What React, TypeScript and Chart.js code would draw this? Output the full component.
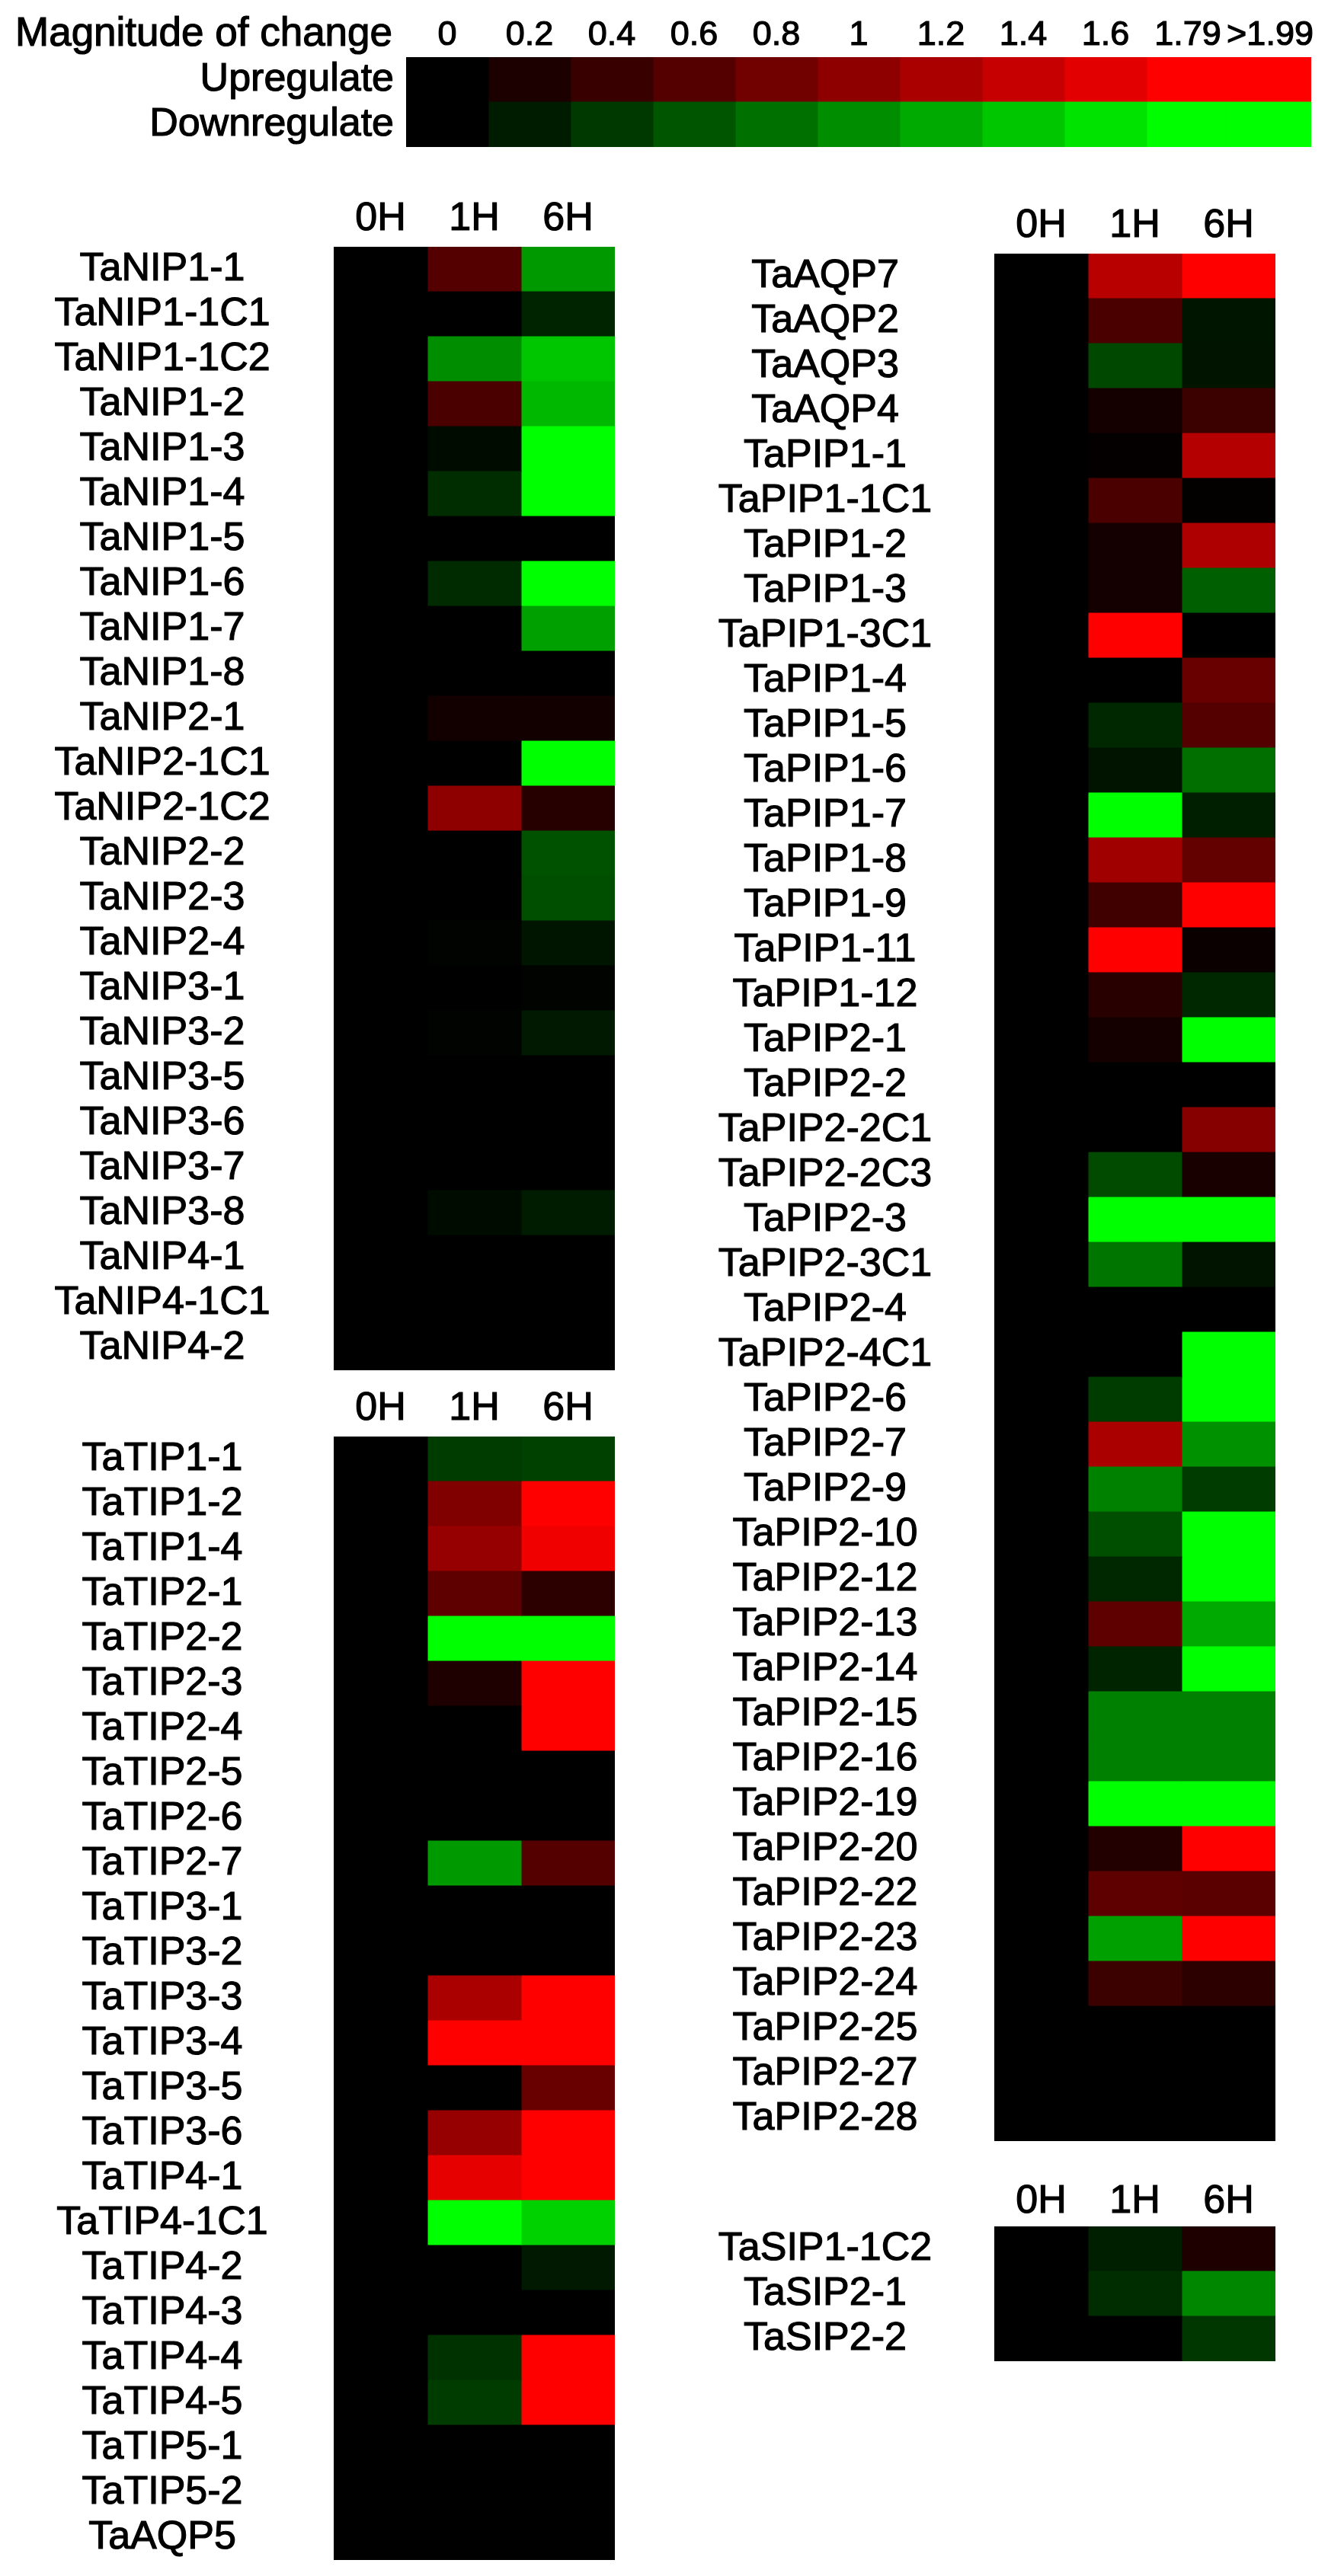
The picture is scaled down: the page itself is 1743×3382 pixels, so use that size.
import React, { useEffect, useRef } from 'react';
import { Chart, registerables } from 'chart.js';

Chart.register(...registerables);

const FONT_FAMILY = '"Liberation Sans", Arial, Helvetica, sans-serif';
const FONT_SIZE = 52;
const LEGEND_TICK_SIZE = 45;
const TEXT_STROKE = 1.2;

// ---------- data ----------
const timePoints = ['0H', '1H', '6H'];

const legendTitle = 'Magnitude of change';
const legendTickLabels = ['0', '0.2', '0.4', '0.6', '0.8', '1', '1.2', '1.4', '1.6', '1.79', '>1.99'];
const legendLevels = [0, 0.2, 0.4, 0.6, 0.8, 1, 1.2, 1.4, 1.6, 1.79, 2];
const legendRows = ['Upregulate', 'Downregulate'];

const nipGenes = ['TaNIP1-1', 'TaNIP1-1C1', 'TaNIP1-1C2', 'TaNIP1-2', 'TaNIP1-3', 'TaNIP1-4', 'TaNIP1-5', 'TaNIP1-6', 'TaNIP1-7', 'TaNIP1-8', 'TaNIP2-1', 'TaNIP2-1C1', 'TaNIP2-1C2', 'TaNIP2-2', 'TaNIP2-3', 'TaNIP2-4', 'TaNIP3-1', 'TaNIP3-2', 'TaNIP3-5', 'TaNIP3-6', 'TaNIP3-7', 'TaNIP3-8', 'TaNIP4-1', 'TaNIP4-1C1', 'TaNIP4-2'];
const nip0H = [0, 0, 0, 0, 0, 0, 0, 0, 0, 0, 0, 0, 0, 0, 0, 0, 0, 0, 0, 0, 0, 0, 0, 0, 0];
const nip1H = [0.6, 0, -1.0, 0.53, -0.08, -0.32, 0, -0.3, 0, 0, 0.13, 0, 1.0, 0, 0, -0.02, 0, -0.02, 0, 0, 0, -0.08, 0, 0, 0];
const nip6H = [-1.08, -0.25, -1.4, -1.3, -2, -1.95, 0, -2, -1.13, 0, 0.13, -2, 0.27, -0.57, -0.56, -0.15, -0.02, -0.18, 0, 0, 0, -0.2, 0, 0, 0];

const tipGenes = ['TaTIP1-1', 'TaTIP1-2', 'TaTIP1-4', 'TaTIP2-1', 'TaTIP2-2', 'TaTIP2-3', 'TaTIP2-4', 'TaTIP2-5', 'TaTIP2-6', 'TaTIP2-7', 'TaTIP3-1', 'TaTIP3-2', 'TaTIP3-3', 'TaTIP3-4', 'TaTIP3-5', 'TaTIP3-6', 'TaTIP4-1', 'TaTIP4-1C1', 'TaTIP4-2', 'TaTIP4-3', 'TaTIP4-4', 'TaTIP4-5', 'TaTIP5-1', 'TaTIP5-2', 'TaAQP5'];
const tip0H = [0, 0, 0, 0, 0, 0, 0, 0, 0, 0, 0, 0, 0, 0, 0, 0, 0, 0, 0, 0, 0, 0, 0, 0, 0];
const tip1H = [-0.42, 0.9, 1.06, 0.67, -2, 0.21, 0, 0, 0, -1.08, 0, 0, 1.2, 2, 0, 1.06, 1.62, -2, 0, 0, -0.35, -0.42, 0, 0, 0];
const tip6H = [-0.46, 2, 1.7, 0.32, -2, 2, 2, 0, 0, 0.6, 0, 0, 2, 2, 0.74, 2, 2, -1.48, -0.18, 0, 2, 2, 0, 0, 0];

const pipGenes = ['TaAQP7', 'TaAQP2', 'TaAQP3', 'TaAQP4', 'TaPIP1-1', 'TaPIP1-1C1', 'TaPIP1-2', 'TaPIP1-3', 'TaPIP1-3C1', 'TaPIP1-4', 'TaPIP1-5', 'TaPIP1-6', 'TaPIP1-7', 'TaPIP1-8', 'TaPIP1-9', 'TaPIP1-11', 'TaPIP1-12', 'TaPIP2-1', 'TaPIP2-2', 'TaPIP2-2C1', 'TaPIP2-2C3', 'TaPIP2-3', 'TaPIP2-3C1', 'TaPIP2-4', 'TaPIP2-4C1', 'TaPIP2-6', 'TaPIP2-7', 'TaPIP2-9', 'TaPIP2-10', 'TaPIP2-12', 'TaPIP2-13', 'TaPIP2-14', 'TaPIP2-15', 'TaPIP2-16', 'TaPIP2-19', 'TaPIP2-20', 'TaPIP2-22', 'TaPIP2-23', 'TaPIP2-24', 'TaPIP2-25', 'TaPIP2-27', 'TaPIP2-28'];
const pip0H = [0, 0, 0, 0, 0, 0, 0, 0, 0, 0, 0, 0, 0, 0, 0, 0, 0, 0, 0, 0, 0, 0, 0, 0, 0, 0, 0, 0, 0, 0, 0, 0, 0, 0, 0, 0, 0, 0, 0, 0, 0, 0];
const pip1H = [1.3, 0.53, -0.5, 0.15, 0.03, 0.53, 0.14, 0.14, 2, 0, -0.28, -0.14, -2, 1.13, 0.46, 2, 0.28, 0.15, 0, 0, -0.53, -2, -0.83, 0, 0, -0.42, 1.2, -0.92, -0.56, -0.28, 0.67, -0.25, -0.9, -0.9, -2, 0.25, 0.67, -1.13, 0.42, 0, 0, 0];
const pip6H = [2, -0.15, -0.14, 0.42, 1.27, 0.02, 1.23, -0.67, 0, 0.74, 0.6, -0.78, -0.21, 0.7, 2, 0.07, -0.28, -2, 0, 0.95, 0.18, -2, -0.14, 0, -2, -2, -1.02, -0.42, -2, -2, -1.2, -2, -0.9, -0.9, -2, 2, 0.64, 2, 0.32, 0, 0, 0];

const sipGenes = ['TaSIP1-1C2', 'TaSIP2-1', 'TaSIP2-2'];
const sip0H = [0, 0, 0];
const sip1H = [-0.21, -0.32, 0];
const sip6H = [0.21, -0.95, -0.39];

// ---------- helpers ----------
function cellColor(v: number): string {
  const t = Math.min(1, Math.abs(v) / 1.8);
  const c = Math.round(255 * t);
  return v >= 0 ? `rgb(${c},0,0)` : `rgb(0,${c},0)`;
}

function measureWidest(labels: string[]): number {
  const ctx = document.createElement('canvas').getContext('2d') as CanvasRenderingContext2D;
  ctx.font = `${FONT_SIZE}px ${FONT_FAMILY}`;
  return Math.max(...labels.map((l) => ctx.measureText(l).width));
}

type Frame = { left: number; top: number; width: number; height: number };
type Area = { x0: number; y0: number; x1: number; y1: number };

function makeConfig(
  rows: string[],
  cols: string[],
  series: number[][],
  frame: Frame,
  heat: Area,
  xTickPad: number,
  yTickPad: number,
  yCrossAlign: 'center' | 'near',
  xFontSize: number,
  xLineHeight: number
): any {
  const xAxisH = heat.y0 - frame.top;
  const yAxisW = heat.x0 - frame.left;
  const padRight = frame.left + frame.width - heat.x1;
  const padBottom = frame.top + frame.height - heat.y1;
  return {
    type: 'bar',
    data: {
      labels: rows,
      datasets: series.map((vals, i) => ({
        label: cols[i],
        data: vals.map(() => 1),
        backgroundColor: vals.map(cellColor),
        borderWidth: 0,
        inflateAmount: 0.5,
        barPercentage: 1,
        categoryPercentage: 1,
      })),
    },
    options: {
      indexAxis: 'y',
      responsive: false,
      maintainAspectRatio: false,
      animation: false,
      events: [],
      layout: { padding: { left: 0, top: 0, right: padRight, bottom: padBottom } },
      plugins: { legend: { display: false }, tooltip: { enabled: false }, title: { display: false } },
      scales: {
        x: {
          type: 'linear',
          position: 'top',
          stacked: true,
          min: 0,
          max: cols.length,
          grid: { display: false, drawTicks: false },
          border: { display: false },
          afterBuildTicks: (s: any) => {
            s.ticks = cols.map((_, i) => ({ value: i + 0.5 }));
          },
          afterFit: (s: any) => {
            s.height = xAxisH;
            s.paddingLeft = 0;
            s.paddingRight = 0;
          },
          ticks: {
            autoSkip: false,
            maxRotation: 0,
            minRotation: 0,
            padding: xTickPad,
            color: '#000',
            textStrokeColor: '#000',
            textStrokeWidth: TEXT_STROKE,
            font: { family: FONT_FAMILY, size: xFontSize, lineHeight: xLineHeight },
            callback: (_v: any, i: number) => cols[i],
          },
        },
        y: {
          type: 'category',
          stacked: true,
          grid: { display: false, drawTicks: false },
          border: { display: false },
          afterFit: (s: any) => {
            s.width = yAxisW;
            s.paddingTop = 0;
            s.paddingBottom = 0;
          },
          ticks: {
            autoSkip: false,
            crossAlign: yCrossAlign,
            padding: yTickPad,
            color: '#000',
            textStrokeColor: '#000',
            textStrokeWidth: TEXT_STROKE,
            font: { family: FONT_FAMILY, size: FONT_SIZE, lineHeight: 1.2 },
          },
        },
      },
    },
  };
}

function HeatPanel(props: {
  genes: string[];
  series: number[][];
  frame: Frame;
  heat: Area;
  headerY: number;
  labelX: number;
}) {
  const ref = useRef<HTMLCanvasElement>(null);
  const { genes, series, frame, heat, headerY, labelX } = props;
  useEffect(() => {
    const widest = measureWidest(genes);
    const yPad = heat.x0 - labelX - widest / 2;
    const xPad = heat.y0 - headerY - (FONT_SIZE * 1.2) / 2;
    const chart = new Chart(
      ref.current as HTMLCanvasElement,
      makeConfig(genes, timePoints, series, frame, heat, xPad, yPad, 'center', FONT_SIZE, 1.2)
    );
    return () => chart.destroy();
  }, []);
  return (
    <canvas
      ref={ref}
      width={frame.width}
      height={frame.height}
      style={{ position: 'absolute', left: frame.left, top: frame.top, width: frame.width, height: frame.height }}
    />
  );
}

function LegendPanel() {
  const ref = useRef<HTMLCanvasElement>(null);
  const frame: Frame = { left: 0, top: 0, width: 1743, height: 205 };
  const heat: Area = { x0: 533, y0: 75, x1: 1721, y1: 193 };
  useEffect(() => {
    const series = legendLevels.map((lv) => [lv, -lv]);
    const xPad = heat.y0 - 47 - LEGEND_TICK_SIZE / 2;
    const chart = new Chart(
      ref.current as HTMLCanvasElement,
      makeConfig(legendRows, legendTickLabels, series, frame, heat, xPad, 16, 'near', LEGEND_TICK_SIZE, 1)
    );
    return () => chart.destroy();
  }, []);
  return (
    <>
      <div
        style={{
          position: 'absolute',
          left: 20,
          top: 15,
          fontFamily: FONT_FAMILY,
          fontSize: 53,
          lineHeight: '53px',
          color: '#000',
          whiteSpace: 'nowrap',
          WebkitTextStroke: `${TEXT_STROKE}px #000`,
        }}
      >
        {legendTitle}
      </div>
      <canvas
        ref={ref}
        width={frame.width}
        height={frame.height}
        style={{ position: 'absolute', left: frame.left, top: frame.top, width: frame.width, height: frame.height }}
      />
    </>
  );
}

export default function App() {
  return (
    <div style={{ position: 'absolute', left: 0, top: 0, width: 1743, height: 3382, background: '#fff' }}>
      <LegendPanel />
      <HeatPanel
        genes={nipGenes}
        series={[nip0H, nip1H, nip6H]}
        frame={{ left: 0, top: 240, width: 840, height: 1565 }}
        heat={{ x0: 438, y0: 324, x1: 807, y1: 1799 }}
        headerY={288}
        labelX={213}
      />
      <HeatPanel
        genes={tipGenes}
        series={[tip0H, tip1H, tip6H]}
        frame={{ left: 0, top: 1806, width: 840, height: 1570 }}
        heat={{ x0: 438, y0: 1886, x1: 807, y1: 3361 }}
        headerY={1850}
        labelX={213}
      />
      <HeatPanel
        genes={pipGenes}
        series={[pip0H, pip1H, pip6H]}
        frame={{ left: 860, top: 250, width: 860, height: 2575 }}
        heat={{ x0: 1305, y0: 333, x1: 1674, y1: 2811 }}
        headerY={297}
        labelX={1083}
      />
      <HeatPanel
        genes={sipGenes}
        series={[sip0H, sip1H, sip6H]}
        frame={{ left: 860, top: 2840, width: 860, height: 270 }}
        heat={{ x0: 1305, y0: 2923, x1: 1674, y1: 3100 }}
        headerY={2891}
        labelX={1083}
      />
    </div>
  );
}
